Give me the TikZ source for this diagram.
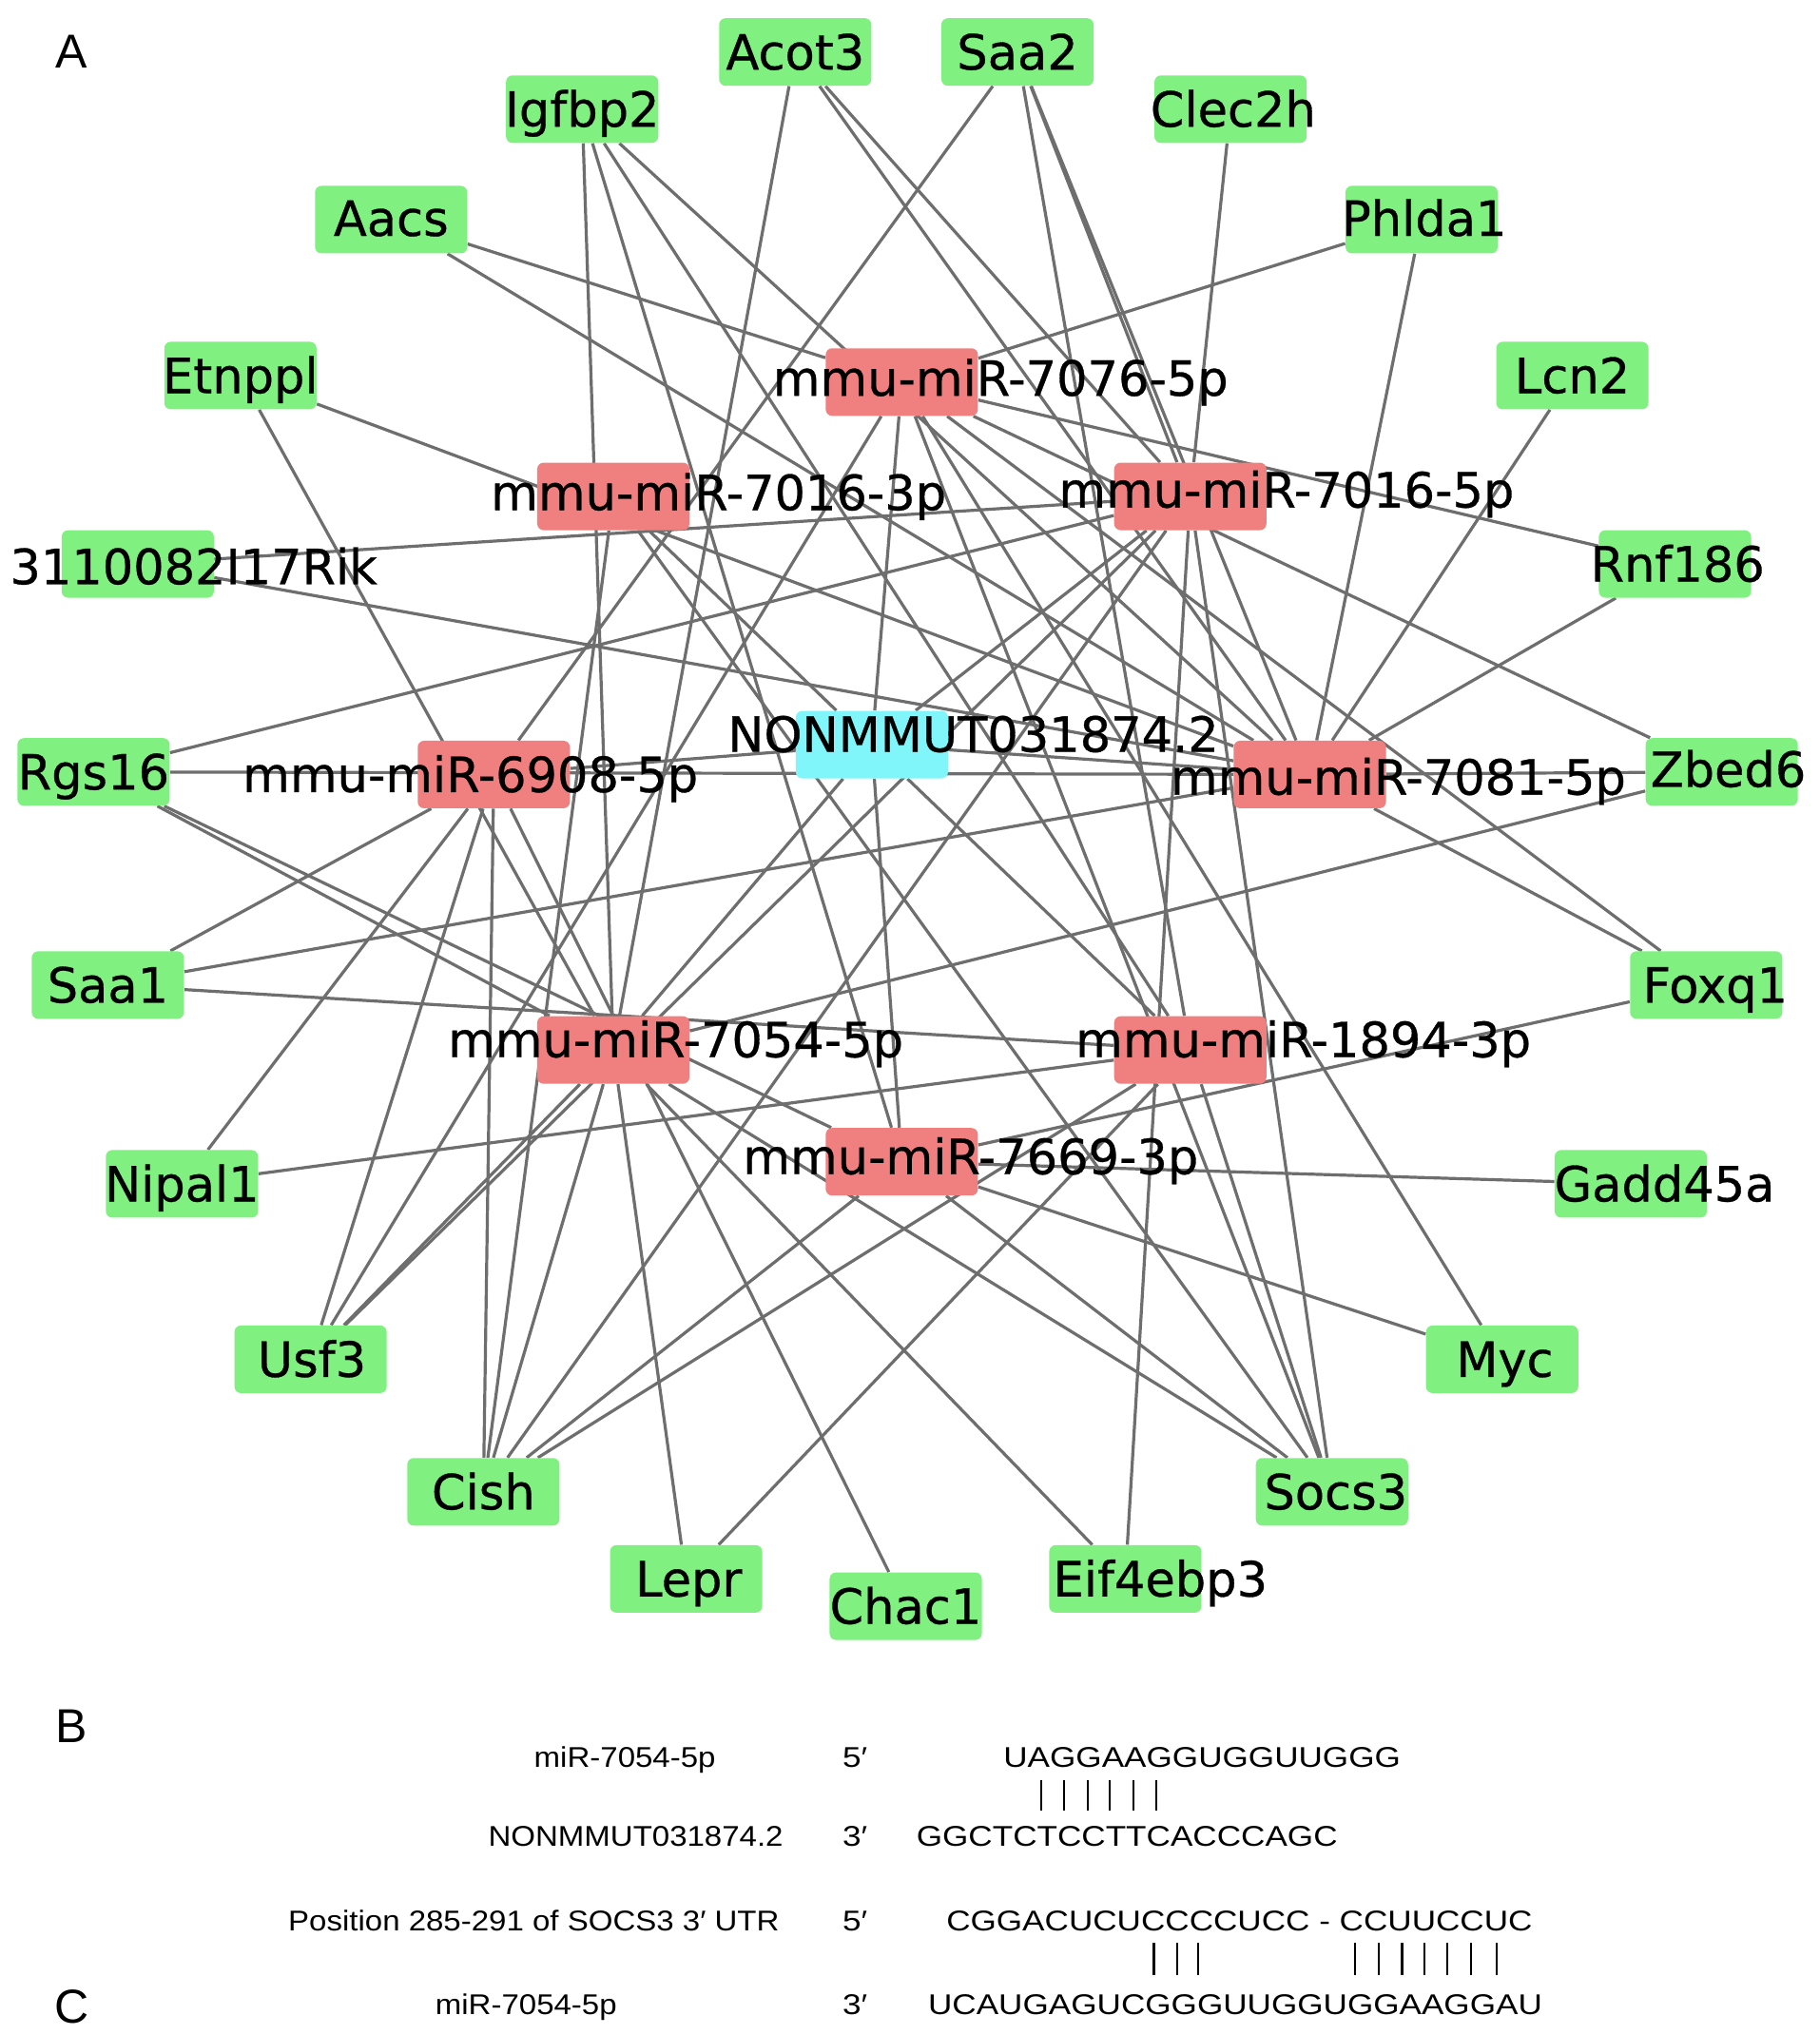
\documentclass[tikz,border=0pt]{standalone}
\usepackage{fontspec}
\setmainfont{Liberation Sans}
\newfontfamily\netfont[FakeBold=0.6]{DejaVu Sans}
\newfontfamily\seqfont[FakeStretch=1.17]{Liberation Sans}
\newfontfamily\namefont[FakeStretch=1.1]{Liberation Sans}
\pgfdeclarelayer{back}
\pgfdeclarelayer{bg}
\pgfsetlayers{back,bg,main}
\definecolor{gbox}{RGB}{128,240,128}
\definecolor{rbox}{RGB}{240,128,128}
\definecolor{cbox}{RGB}{128,245,250}
\definecolor{edgec}{RGB}{110,110,110}
\begin{document}
\begin{tikzpicture}[x=0.683pt,y=-0.683pt,
  box/.style={rectangle,rounded corners=3.4pt,minimum width=80pt,minimum height=35.5pt,inner sep=0pt,draw=none},
  gene/.style={box,fill=gbox},
  mir/.style={box,fill=rbox},
  lncbox/.style={box,fill=cbox},
  lab/.style={anchor=base,inner sep=0pt,font=\netfont\fontsize{25.5}{30}\selectfont},
  edge/.style={draw=edgec,line width=1.6pt},
  panel/.style={anchor=base,inner sep=0pt,font=\fontsize{25}{30}\selectfont},
  seqt/.style={anchor=base west,inner sep=0pt,font=\seqfont\fontsize{15}{18}\selectfont},
  seqn/.style={anchor=base east,inner sep=0pt,font=\namefont\fontsize{15}{18}\selectfont},
  primet/.style={anchor=base,inner sep=0pt,font=\seqfont\fontsize{15}{18}\selectfont},
  pairbar/.style={line width=1.1pt,black}]
\begin{pgfonlayer}{back}
\fill[white] (0,0) rectangle (1400,1566);
\end{pgfonlayer}
\useasboundingbox (0,0) rectangle (1400,1566);

% gene (mRNA) boxes
\foreach \n/\x/\y in {acot/612/40, saa2/783/40, igf/448/84, clec/947/84, aacs/301/169,
  phl/1094/169, etn/185/289, lcn/1210/289, rik/106/434, rnf/1289/434, rgs/72/594,
  zbed/1325/594, saa1/83/758, foxq/1313/758, nip/140/911, gadd/1255/911, usf/239/1046,
  myc/1156/1046, cish/372/1148, socs/1025/1148, lepr/528/1215, eif/866/1215, chac/697/1236}
  \node[gene] (\n) at (\x,\y) {};

% miRNA boxes
\foreach \n/\x/\y in {mA/694/294, mB/472/382, mC/916/382, mD/380/596, mE/1008/596,
  mF/472/808, mG/916/808, mH/694/894}
  \node[mir] (\n) at (\x,\y) {};
\node[lncbox] (lnc) at (671,573) {};

% edges
\begin{pgfonlayer}{bg}
\foreach \s/\t in {acot/mF, acot/mE, acot/mC,
  saa2/mD, saa2/mG, saa2/mC, saa2/mE,
  igf/mF, igf/mH, igf/mG, igf/mE,
  clec/mC, aacs/mA, aacs/mE, phl/mA, phl/mE,
  etn/mE, etn/mF, lcn/mE, rik/mC, rik/mE, rnf/mA, rnf/mE,
  rgs/mC, rgs/mE, rgs/mF, rgs/mH,
  zbed/mA, zbed/mE, zbed/mF,
  saa1/mD, saa1/mE, saa1/mG,
  foxq/mE, foxq/mA, foxq/mH,
  nip/mD, nip/mG, gadd/mH,
  usf/mD, usf/mA, usf/mF, usf/mC,
  myc/mA, myc/mH,
  cish/mD, cish/mF, cish/mB, cish/mC, cish/mH, cish/mG,
  socs/mF, socs/mH, socs/mB, socs/mA, socs/mG, socs/mC,
  lepr/mF, lepr/mG, eif/mF, eif/mC, chac/mD,
  lnc/mA, lnc/mB, lnc/mC, lnc/mD, lnc/mE, lnc/mF, lnc/mG, lnc/mH}
  \draw[edge] (\s) -- (\t);
\end{pgfonlayer}

% labels
\foreach \n/\x/\y/\t in {acot/612/40/Acot3, saa2/783/40/Saa2, igf/448/84/Igfbp2,
  clec/949/84/Clec2h, aacs/301/168/Aacs, phl/1096/168/Phlda1, etn/185/289/Etnppl,
  lcn/1210/289/Lcn2, rik/149/436/3110082I17Rik, rnf/1291/434/Rnf186, rgs/72/594/Rgs16,
  zbed/1330/592/Zbed6, saa1/83/758/Saa1, foxq/1320/758/Foxq1, nip/140/911/Nipal1,
  gadd/1281/911/Gadd45a, usf/240/1046/Usf3, myc/1158/1046/Myc, cish/372/1148/Cish,
  socs/1028/1148/Socs3, lepr/530/1215/Lepr, chac/697/1236/Chac1, eif/893/1215/Eif4ebp3,
  mA/770/291/mmu-miR-7076-5p, mB/553/379/mmu-miR-7016-3p, mC/990/377/mmu-miR-7016-5p,
  mD/362/596/mmu-miR-6908-5p, lnc/749/565/NONMMUT031874.2, mE/1076/598/mmu-miR-7081-5p,
  mF/520/800/mmu-miR-7054-5p, mG/1003/800/mmu-miR-1894-3p, mH/747/890/mmu-miR-7669-3p}
  \node[lab] (t\n) at (\x,\y+13.5) {\t};

% panel letters
\node[panel] (pA) at (55,52) {A};
\node[panel] (pB) at (55,1341) {B};
\node[panel] (pC) at (55,1557) {C};

% panel B
\node[seqn] (n1) at (551,1360) {miR-7054-5p};
\node[primet] (p1) at (658,1360) {5′};
\node[seqt] (s1) at (772,1360) {UAGGAAGGUGGUUGGG};
\foreach \x in {801,819,837,854,872,890} \draw[pairbar] (\x,1370) -- (\x,1393);
\node[seqn] (n2) at (603,1421) {NONMMUT031874.2};
\node[primet] (p2) at (658,1421) {3′};
\node[seqt] (s2) at (705,1421) {GGCTCTCCTTCACCCAGC};

% panel C
\node[seqn] (n3) at (600,1486) {Position 285-291 of SOCS3 3′ UTR};
\node[primet] (p3) at (658,1486) {5′};
\node[seqt] (s3) at (728,1486) {CGGACUCUCCCCUCC - CCUUCCUC};
\foreach \x in {888,906,922,1043,1061,1079,1096,1114,1132,1152} \draw[pairbar] (\x,1495) -- (\x,1520);
\node[seqn] (n4) at (475,1550) {miR-7054-5p};
\node[primet] (p4) at (658,1550) {3′};
\node[seqt] (s4) at (714,1550) {UCAUGAGUCGGGUUGGUGGAAGGAU};
\end{tikzpicture}
\end{document}
